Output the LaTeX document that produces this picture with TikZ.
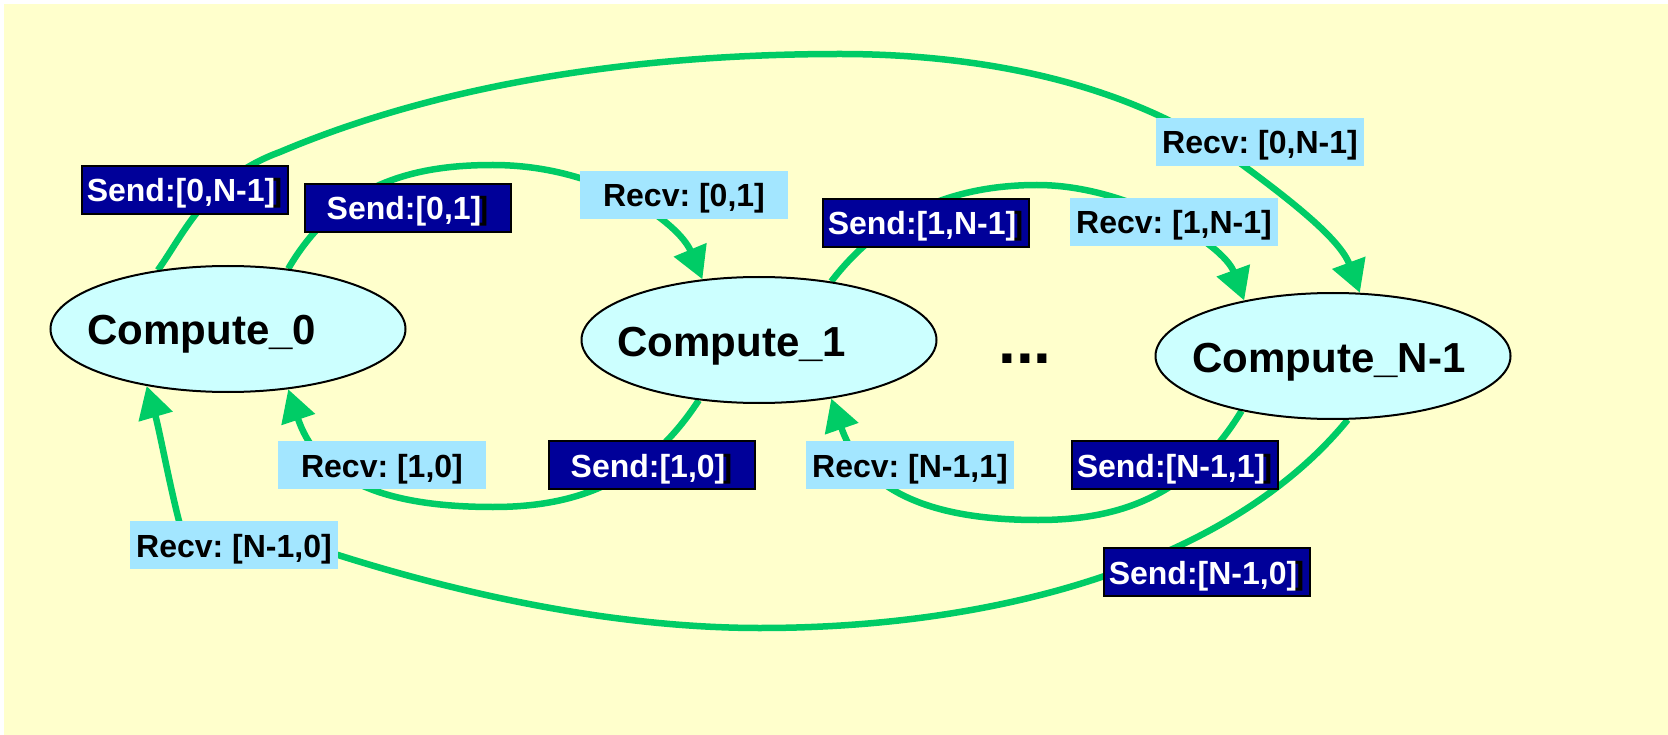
\documentclass[tikz,border=0pt]{standalone}
\usepackage{fontspec}
\setmainfont{Liberation Sans}
\usetikzlibrary{arrows.meta,shapes.geometric}
\frenchspacing

\definecolor{paper}{RGB}{255,255,204}
\definecolor{flow}{RGB}{0,204,102}
\definecolor{procfill}{RGB}{204,255,255}
\definecolor{sendfill}{RGB}{0,0,153}
\definecolor{recvfill}{RGB}{163,230,255}

\pgfdeclarelayer{back}
\pgfsetlayers{back,main}

% zero-size text: #1 = extra space on the right (shifts text left by half), #2 = baseline drop
\newcommand{\boxtext}[3]{\makebox[0pt]{\smash{\raisebox{#2}{#3}}\hspace{#1}}}
% white send text whose closing bracket carries a black shadow
\newcommand{\sendtext}[1]{\textcolor{white}{Send:[#1}\rlap{\hspace{7pt}\textcolor{black}{]}}\textcolor{white}{]}}

\tikzset{
  proc/.style={ellipse, draw=black, line width=2pt, fill=procfill,
    minimum width=355pt, minimum height=126pt, inner sep=0pt,
    font=\fontsize{42}{50}\selectfont\bfseries},
  sendbox/.style={rectangle, draw=black, line width=2.5pt, fill=sendfill,
    minimum width=206pt, minimum height=48pt, inner sep=0pt,
    font=\fontsize{32}{38}\selectfont\bfseries},
  recvbox/.style={rectangle, fill=recvfill,
    minimum width=208pt, minimum height=48pt, inner sep=0pt,
    font=\fontsize{32}{38}\selectfont\bfseries},
  link/.style={draw=flow, line width=6.5pt},
  arrowlink/.style={link, -{Triangle[length=32pt,width=34pt]}}
}

\begin{document}
\begin{tikzpicture}[x=1pt,y=-1pt]
\useasboundingbox (0,0) rectangle (1668,735);

% processes
\node[proc] (c0) at (228,329) {\boxtext{52pt}{-16pt}{Compute\_0}};
\node[proc] (c1) at (759,340) {\boxtext{54pt}{-17pt}{Compute\_1}};
\node[proc] (cn) at (1333,356) {\boxtext{8pt}{-16pt}{Compute\_N-1}};
\node[inner sep=0pt, font=\fontsize{64}{70}\selectfont\bfseries] (dots) at (1025,363) {\boxtext{0pt}{0pt}{...}};

% message labels
\node[sendbox] (s0n) at (185,190) {\boxtext{8pt}{-12pt}{\sendtext{0,N-1}}};
\node[sendbox] (s01) at (408,208) {\boxtext{8pt}{-12pt}{\sendtext{0,1}}};
\node[recvbox] (r01) at (684,195) {\boxtext{0pt}{-12pt}{Recv: [0,1]}};
\node[sendbox] (s1n) at (926,223) {\boxtext{8pt}{-12pt}{\sendtext{1,N-1}}};
\node[recvbox] (r1n) at (1174,222) {\boxtext{0pt}{-12pt}{Recv: [1,N-1]}};
\node[recvbox] (r0n) at (1260,142) {\boxtext{0pt}{-12pt}{Recv: [0,N-1]}};
\node[recvbox] (r10) at (382,465) {\boxtext{0pt}{-12pt}{Recv: [1,0]}};
\node[sendbox] (s10) at (652,465) {\boxtext{8pt}{-12pt}{\sendtext{1,0}}};
\node[recvbox] (rn1) at (910,465) {\boxtext{0pt}{-12pt}{Recv: [N-1,1]}};
\node[sendbox] (sn1) at (1175,465) {\boxtext{8pt}{-12pt}{\sendtext{N-1,1}}};
\node[sendbox] (sn0) at (1207,572) {\boxtext{8pt}{-12pt}{\sendtext{N-1,0}}};
\node[recvbox] (rn0) at (234,545) {\boxtext{0pt}{-12pt}{Recv: [N-1,0]}};

% points the message paths run through
\coordinate (topA1) at (280,152);
\coordinate (topA2) at (840,54);
\coordinate (topA3) at (1244,166);
\coordinate (topB) at (493,165);
\coordinate (topC) at (1037,185);
\coordinate (lowD) at (493,507);
\coordinate (lowE) at (1038,520);
\coordinate (lowF1) at (760,628);
\coordinate (lowF2) at (338,555);
\coordinate (lowF3) at (179,521);

\begin{pgfonlayer}{back}
  \fill[white] (0,0) rectangle (1668,735);
  \fill[paper] (4,4) rectangle (1668,735);

  % 0 -> N-1
  \draw[arrowlink] (c0.140) .. controls (184,234) and (206,179) .. (topA1)
    .. controls (450,80) and (650,54) .. (topA2)
    .. controls (980,54) and (1132,82) .. (topA3)
    .. controls (1290,200) and (1340,239) .. (cn.67);
  % 0 -> 1
  \draw[arrowlink] (c0.45) .. controls (340,180) and (420,165) .. (topB)
    .. controls (600,165) and (679,223) .. (c1.133);
  % 1 -> N-1
  \draw[arrowlink] (c1.39) .. controls (879,219) and (947,185) .. (topC)
    .. controls (1130,185) and (1224,245) .. (cn.148);
  % 1 -> 0
  \draw[arrowlink] (c1.225) .. controls (643,486) and (570,507) .. (lowD)
    .. controls (395,507) and (320,485) .. (c0.315);
  % N-1 -> 1
  \draw[arrowlink] (cn.211) .. controls (1188,499) and (1115,520) .. (lowE)
    .. controls (940,520) and (865,496) .. (c1.321);
  % N-1 -> 0
  \draw[arrowlink] (cn.283) .. controls (1235,558) and (1010,628) .. (lowF1)
    .. controls (620,628) and (471,597) .. (lowF2)
    .. controls (262,531) and (189,560) .. (lowF3)
    .. controls (169,482) and (159,428) .. (c0.215);
\end{pgfonlayer}
\end{tikzpicture}
\end{document}
